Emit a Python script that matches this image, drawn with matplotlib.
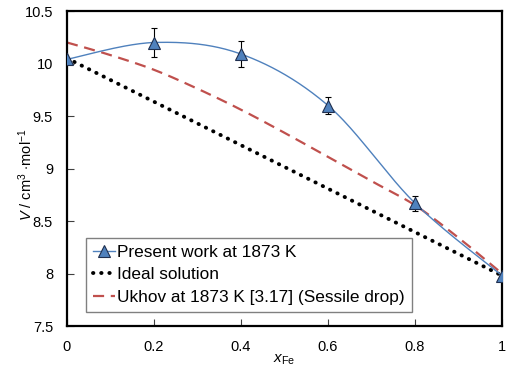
import numpy as np
import matplotlib
matplotlib.use("Agg")
import matplotlib.pyplot as plt

plt.rcParams['font.family'] = ['Liberation Sans', 'DejaVu Sans']
plt.rcParams['mathtext.fontset'] = 'custom'
plt.rcParams['mathtext.rm'] = 'Liberation Sans'
plt.rcParams['mathtext.it'] = 'Liberation Sans:italic'

# data
x_present = [0.0, 0.2, 0.4, 0.6, 0.8, 1.0]
v_present = [10.04, 10.20, 10.09, 9.60, 8.67, 7.98]
v_err = [0.0, 0.135, 0.12, 0.08, 0.07, 0.0]

x_ideal = [0.0, 1.0]
v_ideal = [10.05, 7.98]

x_ukhov = [0.0, 0.1, 0.2, 0.3, 0.4, 0.5, 0.6, 0.7, 0.8, 0.9, 1.0]
v_ukhov = [10.20, 10.08, 9.94, 9.76, 9.56, 9.34, 9.11, 8.88, 8.65, 8.34, 8.00]


# Excel-like smoothed line (Bezier through the points)
def smooth(xs, ys, n=40):
    p = np.column_stack([xs, ys]).astype(float)
    p = np.vstack([p[0], p, p[-1]])
    out = []
    t = np.linspace(0, 1, n)[:, None]
    for i in range(1, len(p) - 2):
        p0, p1, p2, p3 = p[i - 1], p[i], p[i + 1], p[i + 2]
        c1 = p1 + (p2 - p0) / 6
        c2 = p2 - (p3 - p1) / 6
        seg = ((1 - t) ** 3) * p1 + 3 * ((1 - t) ** 2) * t * c1 + 3 * (1 - t) * t ** 2 * c2 + t ** 3 * p2
        out.append(seg)
    out = np.vstack(out)
    return out[:, 0], out[:, 1]


fig = plt.figure(figsize=(5.13, 3.68), dpi=100)
ax = fig.add_axes([0.1306, 0.1141, 0.848, 0.856])

blue = "#4F81BD"
red = "#C0504D"

sx, sy = smooth(x_present, v_present)
ax.plot(sx, sy, color=blue, lw=1.0, zorder=3)
ax.errorbar(x_present, v_present, yerr=v_err, fmt='none', ecolor='black',
            elinewidth=0.8, capsize=2.5, capthick=0.8, zorder=4)
ax.plot(x_present, v_present, linestyle='none', marker='^', markersize=9,
        markerfacecolor=blue, markeredgecolor='#1F2F4F', markeredgewidth=0.8, zorder=5)

ax.plot(x_ideal, v_ideal, color='black', lw=2.8, linestyle=(0, (0.1, 2.0)),
        dash_capstyle='round', zorder=2)

ux, uy = smooth(x_ukhov, v_ukhov)
ax.plot(ux, uy, color=red, lw=1.6, linestyle=(0, (5, 3)), zorder=2)

# legend handles
h1, = ax.plot([], [], color=blue, lw=1.0, marker='^', markersize=9,
              markerfacecolor=blue, markeredgecolor='#1F2F4F', markeredgewidth=0.8)
h2, = ax.plot([], [], color='black', lw=2.8, linestyle=(0, (0.1, 2.0)), dash_capstyle='round')
h3, = ax.plot([], [], color=red, lw=1.6, linestyle=(0, (5, 3)))
leg = ax.legend([h1, h2, h3],
                ["Present work at 1873 K", "Ideal solution",
                 "Ukhov at 1873 K [3.17] (Sessile drop)"],
                loc='lower left', bbox_to_anchor=(0.044, 0.044), borderaxespad=0,
                fontsize=12.4, handlelength=1.3, handletextpad=0.1,
                labelspacing=0.45, borderpad=0.4, fancybox=False, framealpha=1)
leg.get_frame().set_edgecolor('#808080')
leg.get_frame().set_linewidth(1.0)

ax.set_xlim(0, 1)
ax.set_ylim(7.5, 10.5)
ax.set_xticks([0, 0.2, 0.4, 0.6, 0.8, 1])
ax.set_xticklabels(["0", "0.2", "0.4", "0.6", "0.8", "1"])
ax.set_yticks([7.5, 8, 8.5, 9, 9.5, 10, 10.5])
ax.set_yticklabels(["7.5", "8", "8.5", "9", "9.5", "10", "10.5"])
ax.tick_params(direction='in', length=5, width=0.8, color='#404040',
               labelsize=10.5, pad=10)
for s in ax.spines.values():
    s.set_linewidth(1.6)
    s.set_color('black')

ax.set_ylabel(r'$\mathit{V}$ / cm$^{3}$ $\cdot$mol$^{-1}$', fontsize=10.5)
ax.yaxis.set_label_coords(-0.074, 0.479)
ax.set_xlabel(r'$\mathit{x}_{\mathrm{Fe}}$', fontsize=11)
ax.xaxis.set_label_coords(0.5, -0.085)

fig.savefig("out.png", dpi=100)
